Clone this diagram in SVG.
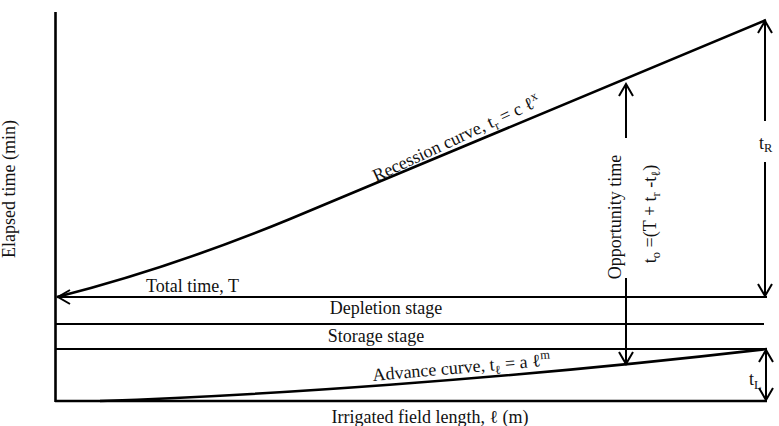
<svg xmlns="http://www.w3.org/2000/svg" width="779" height="426" viewBox="0 0 779 426">
<style>
text{font-family:"Liberation Serif","Times New Roman",serif;font-size:18px;fill:#111}
.ln{stroke:#000;fill:none;stroke-width:2}
.ax{stroke:#000;fill:none;stroke-width:2.6}
.cv{stroke:#000;fill:none;stroke-width:2.6}
.ar{marker-end:url(#v)}
.s{font-size:12.5px}
</style>
<defs>
<marker id="v" markerUnits="userSpaceOnUse" markerWidth="20" markerHeight="20" refX="0" refY="0" orient="auto" overflow="visible">
<path d="M-12,-7 L0,0 L-12,7" fill="none" stroke="#000" stroke-width="2"/>
</marker>
</defs>
<g id="axes">
<path class="ax" d="M55.5,12 V402"/>
<path class="ax" d="M55,401 H767"/>
</g>
<g id="stages">
<path class="ln" d="M55,324 H764"/>
<path class="ln" d="M55,349 H767"/>
</g>
<g id="curves">
<path id="recession" class="cv" d="M57,297 C120,281 205,254 290,219 L766,20"/>
<path id="advance" class="cv" d="M100,401 C250,396 500,380 767,349"/>
</g>
<g id="connectors">
<path class="ln ar" d="M767,297 H58"/>
<path class="ln ar" d="M626,138 V84"/>
<path class="ln ar" d="M626,278 V364"/>
<path class="ln ar" d="M765,121 V21"/>
<path class="ln ar" d="M765,162 V296"/>
<path class="ln ar" d="M766,375 V350"/>
<path class="ln ar" d="M766,375 V400"/>
</g>
<g id="labels">
<text x="146" y="292">Total time, T</text>
<text x="386" y="314" text-anchor="middle">Depletion stage</text>
<text x="376" y="342" text-anchor="middle">Storage stage</text>
<text transform="translate(376,182) rotate(-25)">Recession curve, t<tspan class="s" dy="4">r</tspan><tspan dy="-4"> = c ℓ</tspan><tspan class="s" dy="-7">x</tspan></text>
<text transform="translate(373,381) rotate(-5)">Advance curve, t<tspan class="s" dy="4">ℓ</tspan><tspan dy="-4"> = a ℓ</tspan><tspan class="s" dy="-7">m</tspan></text>
<text transform="translate(621,217) rotate(-90)" text-anchor="middle">Opportunity time</text>
<text transform="translate(656,214) rotate(-90)" text-anchor="middle">t<tspan class="s" dy="4">o</tspan><tspan dy="-4"> =(T + t</tspan><tspan class="s" dy="4">r</tspan><tspan dy="-4"> -t</tspan><tspan class="s" dy="4">ℓ</tspan><tspan dy="-4">)</tspan></text>
<text x="759" y="149">t<tspan class="s" dy="3">R</tspan></text>
<text x="749" y="385">t<tspan class="s" dy="4">L</tspan></text>
<text transform="translate(15,189) rotate(-90)" text-anchor="middle">Elapsed time (min)</text>
<text x="430" y="423" text-anchor="middle">Irrigated field length, ℓ (m)</text>
</g>
</svg>
